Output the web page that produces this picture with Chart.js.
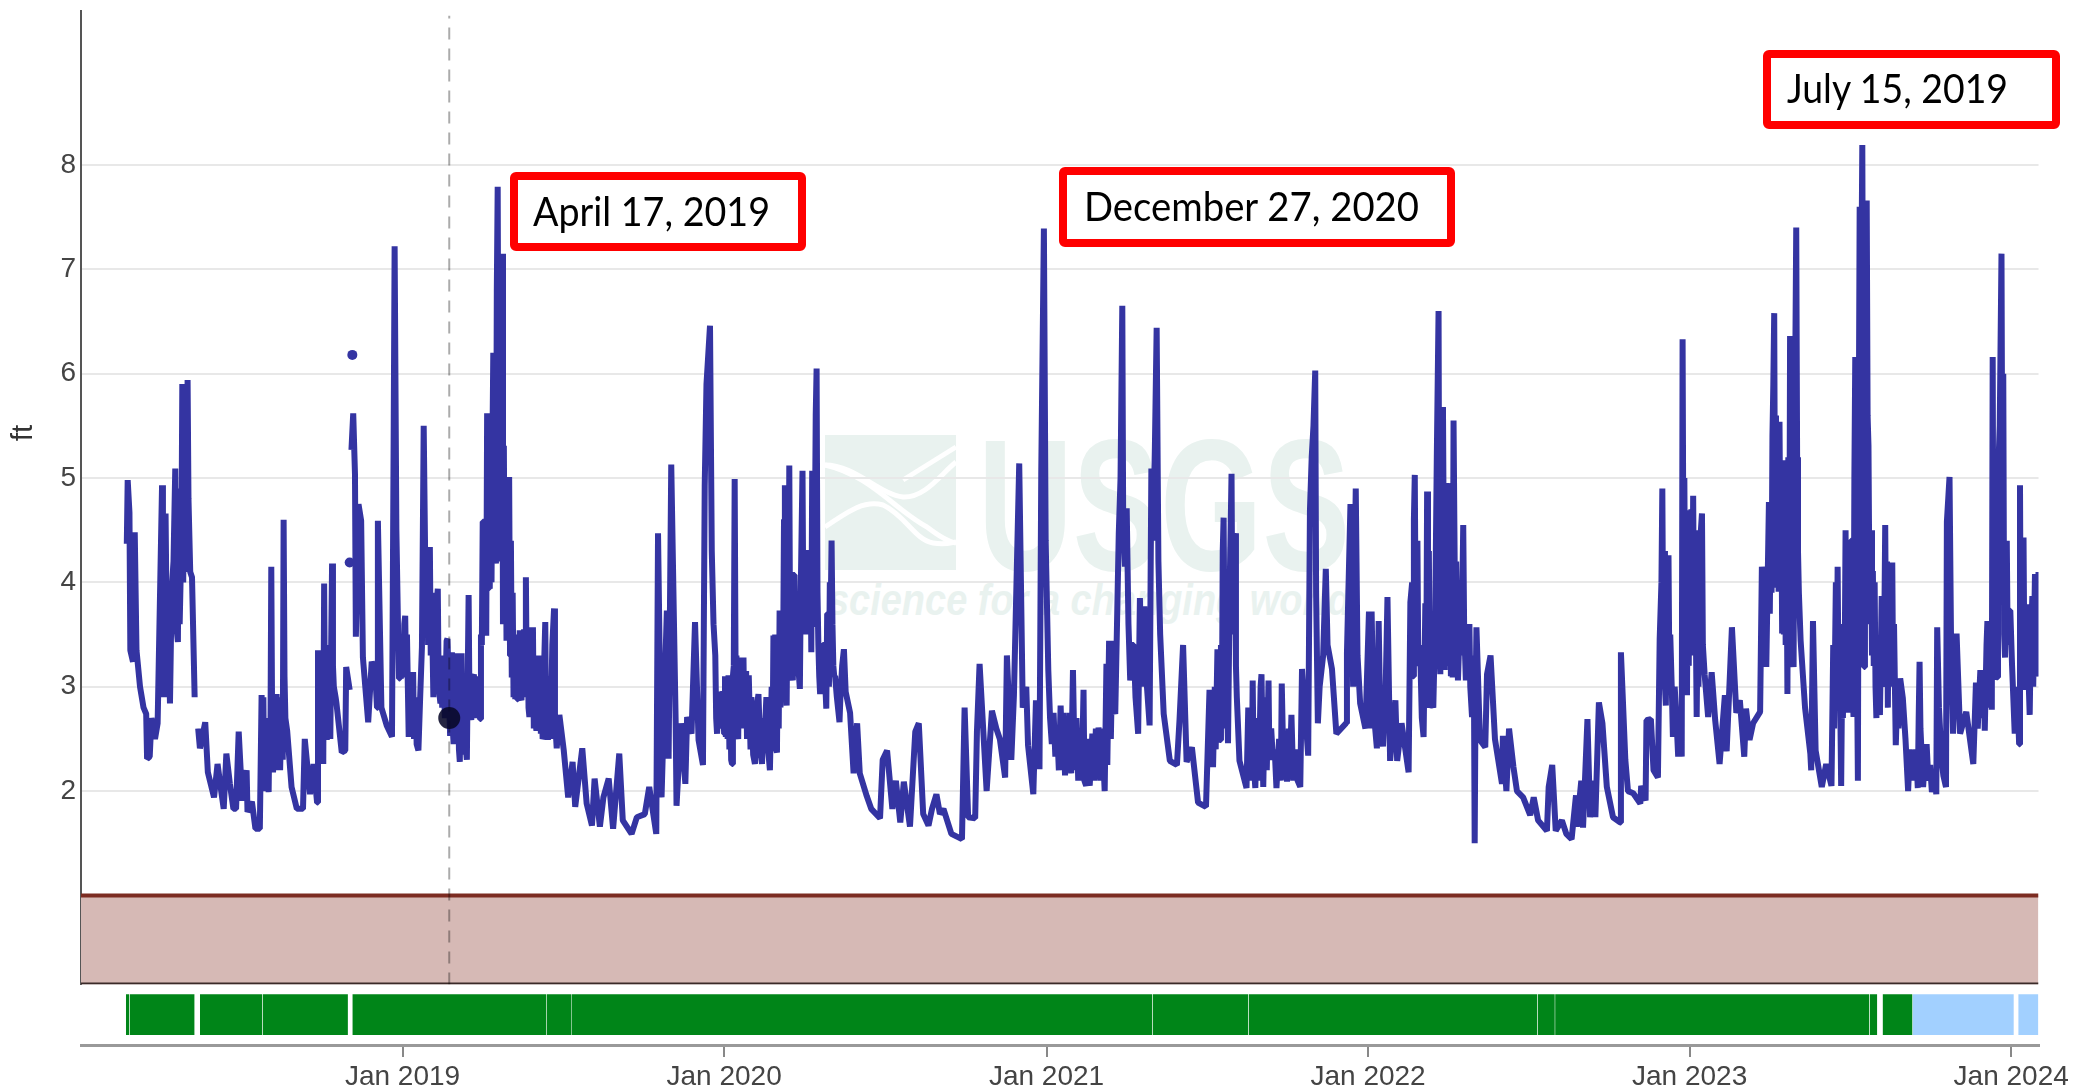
<!DOCTYPE html>
<html>
<head>
<meta charset="utf-8">
<title>Gage height</title>
<script src="https://cdn.jsdelivr.net/npm/chart.js@4/dist/chart.umd.min.js"></script>
<style>
  html, body { margin: 0; padding: 0; background: #fff; }
  #wrap { position: relative; width: 2076px; height: 1088px; overflow: hidden; }
  #wrap svg, #wrap canvas { position: absolute; left: 0; top: 0; }
</style>
</head>
<body>
<div id="wrap">
  <!-- USGS watermark sits behind the transparent canvas -->
  <svg width="2076" height="1088" font-family="Liberation Sans">
    <rect x="825" y="435" width="131" height="135" fill="#e9f2ef"/>
    <g fill="none" stroke="#fff" stroke-width="5">
      <path d="M825 465 C855 465 880 495 903 497 C925 498 940 475 956 462"/>
      <path d="M825 465 C870 475 895 510 927 527 C940 537 950 542 956 543"/>
      <path d="M825 527 C850 510 865 500 883 505 C905 515 915 540 933 543 C945 545 950 543 956 542"/>
      <path d="M956 447 L903 480"/>
    </g>
    <text x="978" y="570" font-weight="bold" font-size="188" fill="#e9f2ef" textLength="372" lengthAdjust="spacingAndGlyphs">USGS</text>
    <text x="828" y="615" font-weight="bold" font-style="italic" font-size="44" fill="#e9f2ef" textLength="523" lengthAdjust="spacingAndGlyphs">science for a changing world</text>
  </svg>

  <canvas id="chart" width="2076" height="1088"></canvas>

  <!-- axis unit and the hand-placed date callouts -->
  <svg width="2076" height="1088" font-family="Lato">
    <text transform="translate(32,433) rotate(-90)" text-anchor="middle" font-family="Liberation Sans" font-size="30" fill="#333">ft</text>
    <g fill="#fff" stroke="#f00" stroke-width="8">
      <rect x="514" y="176" width="288" height="71" rx="2"/>
      <rect x="1063" y="171" width="388" height="72" rx="2"/>
      <rect x="1767" y="54" width="289" height="71" rx="2"/>
    </g>
    <g font-size="40" fill="#000">
      <text x="533" y="226" textLength="237" lengthAdjust="spacingAndGlyphs">April 17, 2019</text>
      <text x="1084" y="221" textLength="335" lengthAdjust="spacingAndGlyphs">December 27, 2020</text>
      <text x="1787" y="103" textLength="221" lengthAdjust="spacingAndGlyphs">July 15, 2019</text>
    </g>
  </svg>
</div>

<script>
// every x below is days since 2018-01-01, no date adapter in the sandbox
const xMax = 2222
const yMin = 0.148
const yMax = 9.475

const yearTickDays = [365, 730, 1096, 1461, 1826, 2191]
const yearTickLabels = ["Jan 2019", "Jan 2020", "Jan 2021", "Jan 2022", "Jan 2023", "Jan 2024"]
const feetTicks = [2, 3, 4, 5, 6, 7, 8]

// [day, ft]; a null value is a break in the record
const readings2018 = [
  [52,4.37],[53,4.98],[55,4.67],[56,3.35],[59,3.24],[61,4.48],[63,3.35],[67,3.0],[71,2.8],[74,2.74],[75,2.31],[78,2.33],
  [80,2.7],[84,2.5],[87,2.65],[90,4.02],[92,4.93],[93,3.45],[94,2.9],[96,4.66],[98,2.97],[99,3.6],[101,2.84],[102,3.4],[103,3.93],
  [105,4.2],[107,5.09],[108,3.6],[110,3.43],[111,4.9],[112,3.6],[114,4.4],[115,5.9],[116,4.0],[118,5.5],[120,4.1],[121,5.94],
  [122,4.8],[124,4.1],[126,4.05],[129,2.9],[131,null],
  [133,2.6],[135,2.41],[141,2.66],[144,2.18],[151,1.94],[155,2.26],[158,2.07],[162,1.83],[165,2.36],[169,2.07],[173,1.83],
  [176,1.83],[179,2.57],[183,1.91],[188,2.2],[189,1.8],[194,1.9],[198,1.64],[203,1.64],[205,2.92],[206,2.3],[207,2.9],[208,2.0],
  [210,2.6],[213,1.99],[214,2.7],[215,2.4],[216,4.15],[217,2.6],[218,2.18],[220,2.9],[221,2.2],[222,2.93],[224,2.3],[225,2.9],
  [226,2.2],[228,2.9],[229,2.3],[230,4.6],[231,3.1],[232,2.7],[234,2.58],[239,2.04],[245,1.83],[252,1.83],[254,2.5],[260,1.97],
  [264,2.26],[268,1.89],[269,3.35],[270,2.4],[271,3.3],[272,2.3],[273,3.3],[275,2.26],[276,3.99],[277,2.6],[278,3.4],[279,2.49],
  [280,3.2],[281,2.5],[282,3.0],[283,2.5],[284,3.4],[285,4.18],[286,3.2],[287,3.0],[289,2.9],[290,2.84],[296,2.37],[300,2.39],[301,3.19],
  [305,2.97],[306,null],
  [307,5.27],[309,5.62],[311,5.04],[312,3.48],[315,4.75],[318,4.59],[320,3.28],[326,2.66],[330,3.24],[334,3.13],[336,2.8],
  [337,4.59],[341,2.8],[347,2.63],[353,2.52],[355,5.52],[356,7.22],[358,4.5],[360,3.5],[361,3.08],[362,3.3],[363,3.08]
]
const readings2019 = [
  [365,3.2],[366,3.1],[367,3.6],[368,3.68],[369,3.1],[370,3.5],[372,2.52],[374,2.9],[375,2.55],[377,3.14],[378,2.5],[380,2.9],
  [381,2.45],[383,2.39],[385,2.9],[387,3.38],[389,5.5],[391,4.0],[393,4.3],[394,3.4],[396,4.34],[397,3.3],[398,3.9],[400,2.9],
  [401,3.6],[402,3.0],[403,3.7],[405,3.94],[406,3.0],[408,2.84],[409,3.3],[410,2.8],[412,3.1],[413,2.7],[415,3.44],[416,3.46],
  [419,2.53],[420,3.2],[421,3.33],[422,2.6],[423,2.45],[424,3.3],[425,2.6],[426,3.32],[427,2.5],[428,3.3],[429,2.4],[430,2.28],
  [431,3.2],[432,3.32],[433,2.4],[434,3.0],[435,2.35],[436,2.9],[437,2.4],[438,2.3],[439,3.1],[440,3.88],[441,2.8],[442,3.1],
  [443,2.68],[444,3.1],[445,3.12],[446,2.7],[447,3.1],[448,2.7],[449,3.1],[450,2.7],[452,3.1],[453,2.69],[454,3.5],[455,3.4],
  [456,4.58],[457,4.58],[458,3.5],[459,4.5],[460,3.49],[461,5.62],[462,3.94],[463,5.6],[464,3.94],[465,5.0],[466,4.0],[467,5.3],
  [468,6.2],[469,4.2],[470,5.7],[471,4.18],[472,6.8],[473,7.79],[474,5.2],[475,6.9],[476,4.2],[477,6.3],[478,7.15],[479,3.6],
  [480,5.31],[481,3.7],[482,5.0],[483,3.44],[484,4.9],[485,3.6],[486,5.01],[487,3.3],[488,4.4],[489,3.09],[490,3.9],[491,2.9],
  [492,3.5],[493,2.88],[494,3.3],[495,2.88],[496,3.5],[497,2.87],[498,3.54],[499,2.9],[500,2.87],[501,3.5],[502,2.9],[503,3.55],
  [504,3.0],[505,4.05],[506,3.0],[507,3.57],[508,2.8],[509,2.71],[510,3.3],[511,2.75],[512,3.4],[513,3.57],[514,2.6],[515,3.3],
  [516,2.65],[517,2.58],[518,3.2],[519,2.6],[520,3.1],[521,3.3],[522,2.55],[523,3.0],[524,2.5],[525,2.52],[526,3.3],[527,3.62],
  [528,2.5],[529,3.1],[530,2.49],[532,3.0],[533,2.5],[535,3.4],[537,3.75],[538,2.7],[540,2.41],[543,2.73],[548,2.39],[553,1.94],
  [558,2.28],[561,1.85],[569,2.41],[574,1.88],[580,1.67],[583,2.12],[589,1.66],[593,1.94],[599,2.12],[604,1.64],[611,2.36],
  [615,1.72],[625,1.59],[631,1.75],[640,1.78],[645,2.04],[653,1.59],[655,4.47],[659,1.94],[665,3.73],[667,2.31],[670,5.13],
  [675,2.67],[676,1.86],[681,2.65],[686,2.07],[688,2.71],[693,2.55],[697,3.62],[701,2.49],[706,2.25],[708,4.93],[710,5.9],
  [714,6.46],[716,4.3],[718,3.6],[720,3.3],[721,2.7],[722,2.55],[724,2.9],[725,2.6],[727,2.95],[729,2.93]
]
const readings2020 = [
  [730,2.55],[731,3.1],[732,2.52],[733,3.1],[734,2.5],[735,3.11],[736,2.4],[737,3.05],[738,2.3],[739,2.26],[740,3.1],[741,3.2],
  [742,4.99],[743,3.2],[744,3.3],[745,2.55],[746,2.5],[747,3.28],[748,2.6],[749,3.2],[750,2.6],[752,3.28],[753,2.6],[755,3.15],
  [756,2.5],[758,3.11],[760,2.4],[761,2.9],[763,2.35],[765,2.26],[767,2.8],[769,2.93],[771,2.4],[773,2.26],[775,2.7],[776,2.53],
  [778,2.9],[780,2.4],[782,2.2],[784,3.0],[785,2.4],[786,3.49],[787,2.5],[788,3.5],[789,2.4],[790,2.37],[791,3.4],[792,2.6],
  [793,3.73],[794,2.8],[795,3.7],[796,2.9],[797,3.3],[798,4.6],[799,4.93],[800,3.1],[801,2.82],[802,3.9],[803,3.2],[804,5.12],
  [805,3.3],[806,4.1],[807,3.2],[808,3.06],[809,4.07],[810,4.07],[811,3.2],[812,3.8],[813,3.1],[814,3.7],[815,3.1],[816,2.98],
  [817,3.9],[818,4.5],[819,5.07],[820,3.6],[821,4.3],[822,3.5],[823,4.3],[824,3.5],[825,4.2],[826,4.31],[827,3.5],[828,4.3],
  [829,3.33],[830,5.07],[831,3.6],[832,5.0],[833,4.4],[834,5.6],[835,6.05],[836,3.9],[837,3.4],[838,3.1],[839,2.93],[840,3.4],
  [841,3.35],[842,3.4],[843,3.4],[844,2.95],[845,3.0],[846,2.79],[847,3.7],[848,3.7],[849,3.0],[850,4.0],[851,3.7],[852,4.4],
  [853,3.6],[854,3.2],[855,3.1],[856,3.1],[858,2.9],[861,2.66],[862,2.9],[864,3.2],[866,3.36],[868,2.95],[873,2.75],[877,2.17],
  [881,2.65],[884,2.17],[892,1.95],[897,1.83],[907,1.74],[910,2.3],[915,2.39],[921,1.83],[925,2.1],[930,1.7],[934,2.09],[941,1.66],
  [947,2.57],[951,2.65],[956,1.78],[962,1.67],[966,1.83],[971,1.97],[975,1.78],[979,1.83],[988,1.59],[1000,1.54],[1003,2.8],
  [1007,1.75],[1015,1.74],[1017,2.57],[1020,3.22],[1028,2.0],[1034,2.77],[1039,2.6],[1043,2.5],[1049,2.13],[1051,3.3],[1056,2.3],
  [1059,2.92],[1065,5.14],[1069,2.8],[1073,3.0],[1075,2.44],[1081,1.97],[1084,2.87],[1088,2.21],[1090,5.04],[1093,7.39]
]
const readings2021 = [
  [1095,4.4],[1098,3.16],[1100,2.7],[1102,2.45],[1104,2.75],[1106,2.33],[1108,2.6],[1110,2.2],[1112,2.82],[1114,2.3],[1115,2.75],
  [1117,2.15],[1119,2.7],[1121,2.2],[1122,2.75],[1124,2.17],[1126,3.16],[1128,2.2],[1130,2.7],[1132,2.1],[1134,2.6],[1136,2.1],
  [1138,2.97],[1139,2.1],[1141,2.05],[1143,2.5],[1145,2.05],[1148,2.55],[1150,2.1],[1152,2.6],[1154,2.15],[1155,2.61],[1157,2.1],
  [1159,2.6],[1162,2.0],[1164,3.22],[1165,2.25],[1167,3.44],[1169,2.5],[1171,3.44],[1172,2.8],[1174,2.74],[1176,3.6],[1178,4.47],
  [1180,5.0],[1182,6.65],[1183,4.6],[1185,4.15],[1187,4.71],[1189,3.6],[1191,3.06],[1193,3.4],[1195,3.4],[1197,2.9],[1200,2.55],
  [1202,3.85],[1204,3.0],[1207,3.77],[1210,3.0],[1213,2.63],[1215,5.09],[1217,4.4],[1219,5.3],[1221,6.44],[1223,4.2],[1225,3.5],
  [1229,2.74],[1236,2.29],[1244,2.25],[1247,2.69],[1251,3.4],[1255,2.28],[1261,2.42],[1268,1.89],[1277,1.85],[1281,2.97],[1283,2.5],
  [1285,2.23],[1287,3.0],[1288,2.4],[1290,3.36],[1291,2.5],[1293,2.49],[1294,3.4],[1295,2.6],[1296,4.3],[1297,4.62],[1298,3.4],
  [1299,2.7],[1300,3.2],[1302,2.46],[1304,4.0],[1306,5.04],[1307,3.5],[1308,4.4],[1310,4.47],[1311,3.2],[1312,2.9],[1315,2.29],
  [1323,2.03],[1325,2.8],[1326,2.1],[1328,2.7],[1329,2.1],[1330,3.06],[1331,2.3],[1333,2.03],[1335,2.7],[1337,2.1],[1339,3.0],
  [1340,3.12],[1342,2.04],[1344,2.9],[1346,2.2],[1348,3.06],[1349,2.3],[1351,2.6],[1353,2.3],[1355,2.4],[1357,2.03],[1360,2.5],
  [1362,2.1],[1363,3.03],[1365,2.2],[1367,2.5],[1369,2.09],[1371,2.6],[1372,2.15],[1374,2.73],[1376,2.1],[1378,2.4],[1381,2.1],
  [1384,2.04],[1386,3.17],[1388,2.9],[1390,2.7],[1393,2.34],[1395,4.69],[1397,5.2],[1399,5.5],[1401,6.03],[1402,3.9],[1404,2.65],
  [1406,3.0],[1410,3.3],[1413,4.13],[1415,3.4],[1420,3.17],[1425,2.55],[1436,2.65],[1437,3.32],[1441,4.75],[1444,3.0],[1447,4.9],
  [1449,3.3],[1452,2.84],[1458,2.6]
]
const readings2022 = [
  [1462,3.72],[1463,2.6],[1465,3.72],[1467,2.8],[1471,2.41],[1473,3.63],[1475,2.6],[1478,2.43],[1481,3.0],[1483,3.86],[1486,2.29],
  [1492,2.87],[1494,2.29],[1499,2.65],[1507,2.18],[1509,3.81],[1511,4.0],[1512,3.1],[1513,4.6],[1514,5.03],[1515,3.6],[1516,3.5],
  [1517,4.4],[1518,3.2],[1520,3.4],[1522,2.7],[1524,2.52],[1526,3.8],[1527,3.0],[1528,4.87],[1529,3.4],[1530,4.3],[1531,2.8],
  [1533,2.85],[1535,2.8],[1537,3.54],[1539,5.2],[1541,6.6],[1542,3.5],[1543,3.12],[1544,5.0],[1545,3.3],[1546,5.68],[1547,4.2],
  [1548,3.16],[1549,4.95],[1550,3.2],[1551,4.9],[1552,4.95],[1553,3.3],[1554,4.9],[1555,3.1],[1556,4.0],[1557,3.09],[1558,5.55],
  [1559,4.5],[1560,3.4],[1561,4.2],[1563,3.06],[1565,3.6],[1567,3.3],[1569,4.55],[1570,3.6],[1572,3.06],[1574,3.5],[1576,3.6],
  [1577,3.0],[1579,2.71],[1581,3.3],[1582,1.5],[1583,2.9],[1584,3.57],[1588,2.49],[1594,2.42],[1596,3.12],[1600,3.3],[1605,2.5],
  [1613,2.07],[1614,2.53],[1618,2.0],[1621,2.6],[1626,2.23],[1630,2.0],[1637,1.94],[1645,1.77],[1649,1.94],[1654,1.72],[1664,1.62],
  [1666,2.04],[1670,2.25],[1674,1.62],[1681,1.72],[1686,1.59],[1692,1.54],[1697,1.96],[1698,1.66],[1703,2.1],[1705,1.65],[1710,2.69],
  [1713,1.75],[1717,2.1],[1719,1.75],[1723,2.85],[1727,2.65],[1732,2.04],[1739,1.75],[1747,1.7],[1748,3.33],[1753,2.3],[1756,2.0],
  [1762,1.98],[1770,1.88],[1771,2.05],[1776,1.91],[1777,2.68],[1782,2.69],[1785,2.2],[1790,2.13],[1792,3.46],[1794,4.0],[1795,4.9],
  [1796,3.4],[1797,4.3],[1798,3.0],[1799,2.82],[1800,3.9],[1801,3.0],[1802,4.26],[1803,3.1],[1804,3.5],[1806,2.9],[1807,2.52],
  [1809,3.0],[1811,2.7],[1813,2.33],[1815,2.6],[1817,2.33],[1818,6.33],[1819,4.0],[1820,5.0],[1821,3.5],[1823,2.92],[1824,4.5],[1825,3.2]
]
const readings2023 = [
  [1826,4.69],[1827,3.3],[1828,4.7],[1829,3.4],[1830,4.83],[1831,3.5],[1832,4.5],[1834,2.71],[1835,3.6],[1836,3.0],[1838,4.4],[1840,4.66],
  [1841,3.4],[1843,3.12],[1847,2.71],[1851,3.14],[1855,2.68],[1860,2.26],[1866,2.92],[1868,2.38],[1874,3.57],[1879,2.75],[1883,2.87],
  [1888,2.33],[1890,2.79],[1894,2.49],[1898,2.65],[1906,2.76],[1908,4.15],[1913,3.19],[1916,4.77],[1917,3.7],[1918,4.6],[1919,3.9],
  [1920,5.4],[1921,5.9],[1922,6.58],[1923,4.2],[1924,5.6],[1925,3.95],[1926,5.2],[1927,3.91],[1928,5.54],[1929,4.3],[1930,5.0],
  [1931,3.51],[1932,4.6],[1933,3.5],[1934,5.17],[1935,3.4],[1936,4.5],[1937,2.93],[1938,5.2],[1939,3.4],[1940,6.36],[1941,3.6],
  [1942,5.0],[1943,3.3],[1944,3.19],[1945,5.4],[1946,6.2],[1947,7.4],[1948,5.2],[1949,4.3],[1950,3.9],[1952,3.44],[1957,2.8],
  [1963,2.36],[1964,2.2],[1966,3.63],[1969,2.39],[1976,2.04],[1981,2.26],[1987,2.05],[1989,3.4],[1990,2.6],[1992,4.0],[1993,3.0],
  [1994,4.15],[1995,3.0],[1996,3.6],[1998,2.05],[1999,3.0],[2000,2.7],[2001,3.6],[2002,3.2],[2003,4.5],[2004,2.9],[2005,4.3],
  [2006,2.75],[2007,4.3],[2008,2.9],[2009,4.4],[2010,4.4],[2011,3.0],[2012,2.71],[2013,5.0],[2014,6.16],[2015,4.0],[2016,3.2],
  [2017,2.1],[2018,5.5],[2019,7.6],[2020,5.6],[2021,7.0],[2022,8.19],[2023,5.5],[2024,3.19],[2025,6.4],[2026,5.4],[2027,7.66],
  [2028,5.6],[2029,5.31],[2030,4.0],[2031,3.6],[2032,4.5],[2033,3.3],[2034,4.11],[2035,3.2],[2036,4.0],[2037,3.0],[2038,2.7],
  [2039,3.4],[2040,2.9],[2042,2.73],[2044,3.87],[2045,3.0],[2046,3.1],[2047,3.6],[2048,4.55],[2049,3.3],[2050,4.2],[2051,2.8],
  [2052,3.9],[2053,3.0],[2054,4.0],[2055,3.1],[2056,4.19],[2057,3.0],[2058,3.6],[2060,2.44],[2062,3.0],[2063,2.6],[2065,3.08],
  [2068,2.89],[2071,2.5],[2074,2.0],[2076,2.4],[2078,2.1],[2080,2.39],[2082,2.1],[2083,2.4],[2085,2.03],[2086,2.7],[2087,3.24],
  [2088,2.6],[2091,2.04],[2093,2.3],[2095,2.45],[2097,2.1],[2099,2.25],[2101,1.99],[2103,2.2],[2106,1.97],[2107,3.57],[2109,2.8],
  [2112,2.3],[2114,2.15],[2117,2.04],[2118,4.58],[2121,5.01],[2123,3.2],[2125,2.55],[2129,3.51],[2133,2.55],[2140,2.76],[2148,2.26],
  [2151,3.04],[2153,2.6],[2156,3.16],[2158,2.7],[2160,3.1],[2161,2.58],[2163,3.4],[2164,3.63],[2165,2.8],[2167,3.4],[2169,2.78],
  [2170,6.16],[2171,3.2],[2172,4.4],[2173,3.1],[2175,3.09],[2176,5.0],[2178,5.5],[2180,7.15],[2181,4.6],[2182,6.0],[2183,3.5],
  [2184,3.28],[2186,4.4],[2187,3.4],[2188,3.73],[2190,3.73]
]
const readings2024 = [
  [2192,3.2],[2195,2.55],[2197,3.0],[2199,2.7],[2200,2.45],[2201,4.93],[2202,3.0],[2203,3.9],[2204,3.1],[2205,4.43],[2206,3.2],
  [2207,2.97],[2208,3.6],[2210,3.79],[2211,3.0],[2212,2.73],[2213,3.3],[2215,3.87],[2216,3.0],[2218,4.08],[2219,3.2],[2221,3.1],[2222,4.1]
]
const isolatedReadings = [[305,4.19],[308,6.18]]

const floodFloorFeet = 1.0
const selectedDay = 418
const selectedFeet = 2.7
const selectedLineTop = 9.43

// data-quality strip, [first day, last day]; hairline breaks between some periods
const approvedPeriods = [
  [51,55],[55.3,129],[135,206],[206.3,303],[308,528],[528.3,557],[557.3,1216],[1216.3,1325],[1325.3,1653],[1653.3,1673],[1673.3,2030],[2030.3,2039],[2045,2079]
]
const provisionalPeriods = [[2079,2194],[2199,2222]]

const toPoint = ([x, y]) => ({ x, y })
const gageReadings = [readings2018, readings2019, readings2020, readings2021, readings2022, readings2023, readings2024].flat()

const lineBase = { pointRadius: 0, borderJoinStyle: "bevel", borderCapStyle: "butt" }

const statusBand = (period, color) => ({
  ...lineBase,
  yAxisID: "strip",
  data: period.map((x) => ({ x, y: 0.836 })),
  borderWidth: 0,
  backgroundColor: color,
  fill: { value: 0.164 },
  order: 6,
})

// the tick labels must not push the plot down from the top of the canvas
const fitLeftAxis = (scale) => {
  scale.width = 81
  scale.paddingTop = 0
  scale.paddingBottom = 0
}

new Chart(document.getElementById("chart"), {
  type: "line",
  data: {
    datasets: [
      { ...lineBase, data: [toPoint([selectedDay, selectedFeet])], showLine: false, pointRadius: 11, pointBackgroundColor: "rgba(8,8,40,0.88)", pointBorderWidth: 0, order: 0 },
      { ...lineBase, data: [[selectedDay, yMin], [selectedDay, selectedLineTop]].map(toPoint), borderColor: "rgba(0,0,0,0.33)", borderWidth: 2, borderDash: [12, 9], order: 1 },
      { ...lineBase, label: "Gage height", data: gageReadings.map(toPoint), borderColor: "#3434a2", borderWidth: 6, spanGaps: false, order: 2 },
      { ...lineBase, data: isolatedReadings.map(toPoint), showLine: false, pointRadius: 5, pointBackgroundColor: "#3434a2", pointBorderWidth: 0, order: 2 },
      { ...lineBase, data: [[0, yMin + 0.008], [xMax, yMin + 0.008]].map(toPoint), borderColor: "#3a2a28", borderWidth: 2, order: 4 },
      { ...lineBase, data: [[0, floodFloorFeet], [xMax, floodFloorFeet]].map(toPoint), borderColor: "#7c2c22", borderWidth: 4, backgroundColor: "#d6b9b5", fill: "start", order: 5 },
      ...approvedPeriods.map((p) => statusBand(p, "#008518")),
      ...provisionalPeriods.map((p) => statusBand(p, "#a2d0ff")),
    ],
  },
  options: {
    responsive: false,
    animation: false,
    devicePixelRatio: 1,
    layout: { padding: { top: 4, right: 37.5, left: 0, bottom: 0 } },
    plugins: { legend: { display: false }, tooltip: { enabled: false } },
    scales: {
      x: {
        type: "linear",
        min: 0,
        max: xMax,
        afterBuildTicks: (scale) => { scale.ticks = yearTickDays.map((value) => ({ value })) },
        afterFit: (scale) => { scale.height = 43 },
        ticks: {
          autoSkip: false,
          maxRotation: 0,
          padding: 3,
          color: "#444",
          font: { family: "Liberation Sans", size: 28 },
          callback: (value) => yearTickLabels[yearTickDays.indexOf(value)],
        },
        grid: { drawOnChartArea: false, color: "#888", lineWidth: 2, tickLength: 12 },
        border: { color: "#999", width: 3 },
      },
      y: {
        type: "linear",
        stack: "panels",
        stackWeight: 980,
        weight: 1,
        min: yMin,
        max: yMax,
        afterBuildTicks: (scale) => { scale.ticks = feetTicks.map((value) => ({ value })) },
        afterFit: fitLeftAxis,
        ticks: { padding: 5, color: "#444", font: { family: "Liberation Sans", size: 28 } },
        grid: { color: "#e8e8e8", lineWidth: 2, drawTicks: false },
        border: { color: "#555", width: 2 },
      },
      strip: {
        type: "linear",
        stack: "panels",
        stackWeight: 61,
        weight: 0,
        min: 0,
        max: 1,
        afterFit: fitLeftAxis,
        ticks: { display: false },
        grid: { display: false },
        border: { display: false },
      },
    },
  },
})
</script>
</body>
</html>
